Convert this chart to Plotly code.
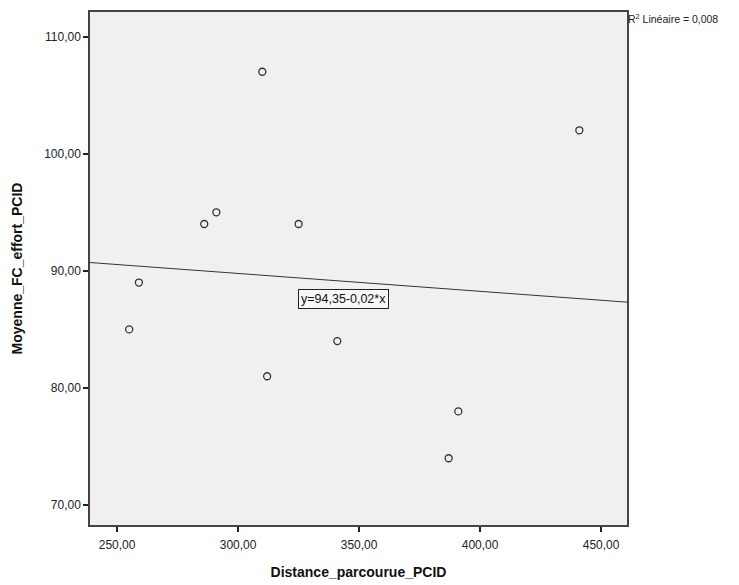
import numpy as np
import plotly.graph_objects as go

# Observations
distance = [255, 259, 286, 291, 310, 312, 325, 341, 387, 391, 441]
fc_moyenne = [85, 89, 94, 95, 107, 81, 94, 84, 74, 78, 102]

x_ticks = [250, 300, 350, 400, 450]
y_ticks = [70, 80, 90, 100, 110]
x_range = [238.8, 460.7]
y_range = [68.3, 112.1]

# Linear fit
slope, intercept = np.polyfit(distance, fc_moyenne, 1)
r2 = np.corrcoef(distance, fc_moyenne)[0, 1] ** 2


def fr(v, d=2):
    return f"{v:.{d}f}".replace(".", ",")


line_x = np.array(x_range)
line_y = intercept + slope * line_x

fig = go.Figure()
fig.add_trace(go.Scatter(
    x=line_x, y=line_y, mode="lines",
    line=dict(color="#333333", width=1), hoverinfo="skip", showlegend=False,
))
fig.add_trace(go.Scatter(
    x=distance, y=fc_moyenne, mode="markers",
    marker=dict(symbol="circle-open", size=7, color="#333333", line=dict(width=1.3)),
    showlegend=False,
))

# Equation label, set just under the fitted line
fig.add_annotation(
    x=343.4, y=87.6, xref="x", yref="y",
    text=f"y={fr(intercept)}-{fr(abs(slope))}*x", showarrow=False,
    font=dict(family="Arial, Liberation Sans", size=12.5, color="#111111"),
    bgcolor="#F8F8F8", bordercolor="#222222", borderwidth=1, borderpad=2,
)
fig.add_annotation(
    x=1.0, y=1.0, xref="paper", yref="paper", xanchor="left", yanchor="top",
    text=f"R<sup>2</sup> Linéaire = {fr(r2, 3)}", showarrow=False,
    font=dict(family="Arial, Liberation Sans", size=10.5, color="#222222"),
    xshift=-1, yshift=2,
)

axis_common = dict(
    showgrid=False, zeroline=False, ticks="outside", ticklen=5, tickwidth=1.5,
    tickcolor="#222222", showline=True, linecolor="#444444", linewidth=1.5,
    mirror=True, automargin=False,
    tickfont=dict(family="Arial, Liberation Sans", size=12, color="#222222"),
)

fig.update_layout(
    width=739, height=585,
    margin=dict(l=90, r=112, t=12, b=60),
    paper_bgcolor="white", plot_bgcolor="#F0F0F0",
    xaxis=dict(
        range=x_range, tickvals=x_ticks, ticktext=[fr(v) for v in x_ticks],
        ticklabelstandoff=3,
        title=dict(text="<b>Distance_parcourue_PCID</b>", standoff=16,
                   font=dict(family="Arial, Liberation Sans", size=14, color="#111111")),
        **axis_common,
    ),
    yaxis=dict(
        range=y_range, tickvals=y_ticks, ticktext=[fr(v) for v in y_ticks],
        title=dict(text="<b>Moyenne_FC_effort_PCID</b>", standoff=18,
                   font=dict(family="Arial, Liberation Sans", size=14, color="#111111")),
        **axis_common,
    ),
)

fig.write_html("out.html")
